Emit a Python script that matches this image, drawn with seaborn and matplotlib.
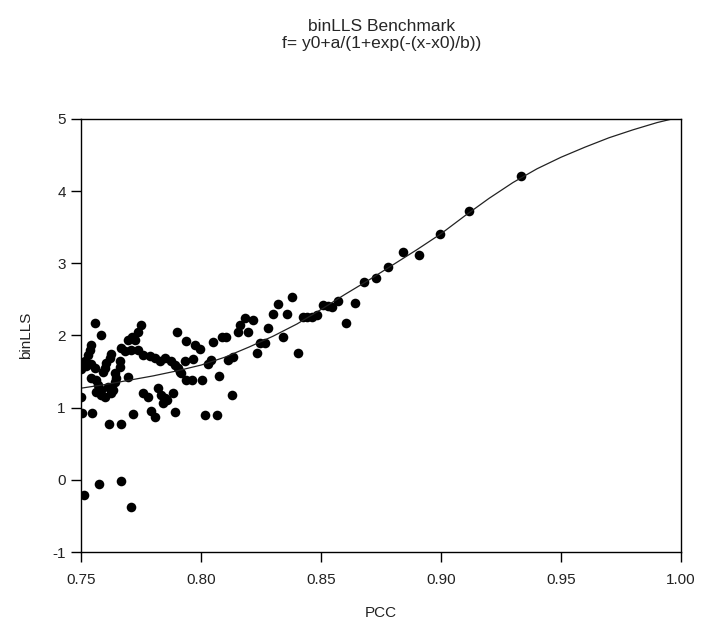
import matplotlib
matplotlib.use("Agg")
import matplotlib.pyplot as plt
import pandas as pd
import seaborn as sns

# scatter values
pcc = [0.7557, 0.7585, 0.7751, 0.7738, 0.7711, 0.7696, 0.7725, 0.7901, 0.7939,
       0.7543, 0.7536, 0.7529, 0.7515, 0.7508, 0.7543, 0.7557, 0.7501, 0.7522,
       0.7626, 0.7620, 0.7606, 0.7599, 0.7592,
       0.7668, 0.7682, 0.7710, 0.7738, 0.7758, 0.7786, 0.7807, 0.7828, 0.7849,
       0.7876, 0.7890,
       0.7661, 0.7661, 0.7904, 0.7918, 0.7932,
       0.7543, 0.7564, 0.7571, 0.7585, 0.7564,
       0.7640, 0.7647, 0.7640, 0.7696,
       0.7613, 0.7633, 0.7626, 0.7585, 0.7599, 0.7501,
       0.7758, 0.7779, 0.7821, 0.7835, 0.7849, 0.7883,
       0.7843, 0.7860, 0.7892, 0.7790, 0.7808,
       0.7503, 0.7547, 0.7617, 0.7666, 0.7717,
       0.7575, 0.7514, 0.7667, 0.7710, 0.7937,
       0.7975, 0.7996, 0.8051, 0.8086, 0.8104, 0.8155, 0.8163, 0.8183, 0.8218,
       0.8197, 0.8280, 0.8301, 0.8322, 0.8246, 0.8266, 0.8232, 0.7968, 0.8031,
       0.8040, 0.8114, 0.8135, 0.7912, 0.7961, 0.8003, 0.8076, 0.8128, 0.8017,
       0.8066,
       0.8840, 0.8908, 0.8780, 0.8729, 0.8679, 0.8642, 0.8603, 0.8570, 0.8545,
       0.8527, 0.8507, 0.8485, 0.8461, 0.8440, 0.8424, 0.8380, 0.8360, 0.8340,
       0.8405, 0.8996, 0.9118, 0.9332]
binlls = [2.17, 2.01, 2.15, 2.05, 1.98, 1.94, 1.94, 2.05, 1.92,
          1.87, 1.80, 1.73, 1.64, 1.60, 1.60, 1.55, 1.53, 1.58,
          1.75, 1.69, 1.62, 1.55, 1.50,
          1.82, 1.78, 1.80, 1.80, 1.73, 1.71, 1.69, 1.64, 1.69,
          1.64, 1.59,
          1.64, 1.57, 1.55, 1.48, 1.64,
          1.41, 1.39, 1.32, 1.25, 1.22,
          1.48, 1.41, 1.36, 1.43,
          1.29, 1.25, 1.20, 1.18, 1.15, 1.15,
          1.20, 1.15, 1.27, 1.18, 1.13, 1.20,
          1.06, 1.10, 0.94, 0.96, 0.87,
          0.92, 0.92, 0.77, 0.77, 0.91,
          -0.06, -0.21, -0.01, -0.38, 1.38,
          1.87, 1.81, 1.91, 1.98, 1.98, 2.05, 2.14, 2.24, 2.22,
          2.05, 2.10, 2.30, 2.43, 1.89, 1.89, 1.76, 1.67, 1.61,
          1.66, 1.66, 1.70, 1.50, 1.38, 1.38, 1.44, 1.18, 0.90,
          0.90,
          3.15, 3.12, 2.95, 2.79, 2.74, 2.45, 2.18, 2.48, 2.40,
          2.41, 2.42, 2.29, 2.26, 2.25, 2.26, 2.53, 2.30, 1.98,
          1.76, 3.40, 3.73, 4.21]

# fitted curve
fit_x = [0.75, 0.76, 0.77, 0.78, 0.79, 0.80, 0.81, 0.82, 0.83, 0.84, 0.85, 0.86,
         0.87, 0.88, 0.89, 0.90, 0.91, 0.92, 0.93, 0.94, 0.95, 0.96, 0.97, 0.98,
         0.99, 1.00]
fit_y = [1.27, 1.32, 1.38, 1.44, 1.51, 1.59, 1.70, 1.84, 1.99, 2.16, 2.36, 2.57,
         2.77, 2.98, 3.19, 3.41, 3.66, 3.90, 4.12, 4.31, 4.47, 4.61, 4.74, 4.85,
         4.95, 5.03]

points = pd.DataFrame({"PCC": pcc, "binLLS": binlls})
curve = pd.DataFrame({"PCC": fit_x, "binLLS": fit_y})

sns.set_style("ticks")
plt.rcParams["font.family"] = ["Liberation Sans", "DejaVu Sans"]
plt.rcParams["axes.unicode_minus"] = False

fig = plt.figure(figsize=(7.01, 6.21), dpi=100)
ax = fig.add_axes([0.1156, 0.1111, 0.8559, 0.6973])

sns.lineplot(data=curve, x="PCC", y="binLLS", color="#222222", linewidth=0.9,
             estimator=None, sort=True, ax=ax)
sns.scatterplot(data=points, x="PCC", y="binLLS", color="black", s=48,
                linewidth=0, ax=ax)

ax.set_xlim(0.75, 1.00)
ax.set_ylim(-1, 5)
ax.set_xticks([0.75, 0.80, 0.85, 0.90, 0.95, 1.00])
ax.set_xticklabels(["0.75", "0.80", "0.85", "0.90", "0.95", "1.00"])
ax.set_yticks([-1, 0, 1, 2, 3, 4, 5])
for s in ax.spines.values():
    s.set_visible(True)
    s.set_color("black")
    s.set_linewidth(1.0)
ax.tick_params(axis="both", direction="out", length=7, width=1, color="black",
               labelsize=11, pad=4, labelcolor="#222222")
ax.tick_params(axis="x", pad=8)
ax.set_xlabel("PCC", fontsize=11, labelpad=14, color="#222222")
ax.set_ylabel("binLLS", fontsize=11, labelpad=14, color="#222222")

fig.text(0.545, 0.943, "binLLS Benchmark\nf= y0+a/(1+exp(-(x-x0)/b))",
         ha="center", va="center", fontsize=12.5, linespacing=1.15)

fig.savefig("out.png", dpi=100)
